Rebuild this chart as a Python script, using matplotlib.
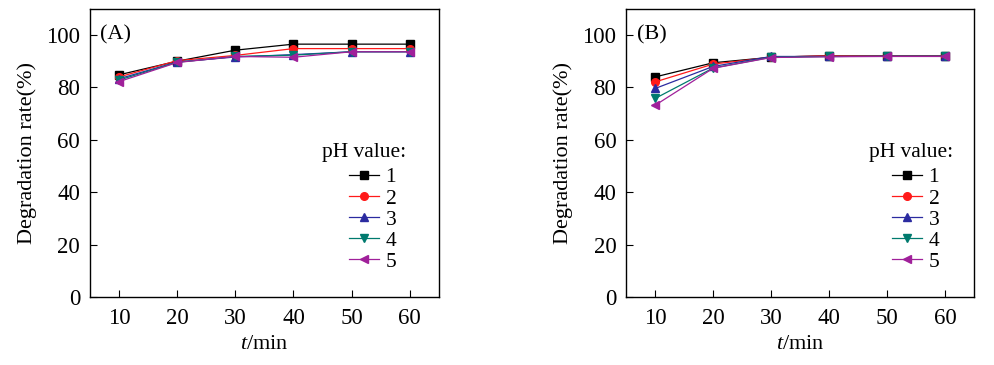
import matplotlib
matplotlib.use("Agg")
import matplotlib.pyplot as plt

plt.rcParams['font.family'] = ['Liberation Serif', 'DejaVu Serif']
plt.rcParams['mathtext.fontset'] = 'custom'
plt.rcParams['mathtext.it'] = 'Liberation Serif:italic'
plt.rcParams['mathtext.rm'] = 'Liberation Serif'

# reaction time (min)
t_min = [10, 20, 30, 40, 50, 60]
ph_labels = ['1', '2', '3', '4', '5']

# degradation rate (%) for each pH, panel A
rate_a_ph1 = [84.8, 90.0, 94.2, 96.5, 96.5, 96.5]
rate_a_ph2 = [84.0, 90.2, 92.2, 94.8, 94.8, 94.8]
rate_a_ph3 = [83.3, 89.7, 91.6, 92.5, 93.6, 93.6]
rate_a_ph4 = [82.8, 89.6, 91.8, 92.3, 93.6, 93.6]
rate_a_ph5 = [82.2, 89.5, 91.8, 91.5, 93.6, 93.6]

# panel B
rate_b_ph1 = [84.0, 89.4, 91.5, 92.1, 92.1, 92.1]
rate_b_ph2 = [82.1, 88.9, 91.5, 92.1, 92.1, 92.1]
rate_b_ph3 = [79.6, 88.0, 91.8, 91.8, 91.9, 91.9]
rate_b_ph4 = [75.8, 87.4, 91.5, 91.8, 91.9, 91.9]
rate_b_ph5 = [73.2, 87.3, 91.4, 91.7, 91.8, 91.8]

colors = ['#000000', '#ff1a1a', '#2b2ba0', '#007a6e', '#a0209a']
markers = ['s', 'o', '^', 'v', '<']


def draw_panel(ax, series, tag, title_x, leg_x):
    for i, vals in enumerate(series):
        ax.plot(t_min, vals, color=colors[i], marker=markers[i], markersize=5.5,
                linewidth=0.9, label=ph_labels[i])
    ax.set_xlim(5, 65)
    ax.set_ylim(0, 110)
    ax.set_xticks(t_min)
    ax.set_yticks([0, 20, 40, 60, 80, 100])
    ax.tick_params(direction='in', length=5, width=0.8, labelsize=16.5)
    ax.tick_params(axis='x', pad=8)
    ax.tick_params(axis='y', pad=7)
    for s in ax.spines.values():
        s.set_linewidth(1.0)
    ax.set_xlabel('$t$/min', fontsize=16, labelpad=4)
    ax.set_ylabel('Degradation rate(%)', fontsize=16, labelpad=7)
    ax.text(6.8, 100, tag, fontsize=16, va='center', ha='left')
    # legend title drawn as text so the gap under it matches
    ax.text(title_x, 0.503, 'pH value:', transform=ax.transAxes, fontsize=15.5,
            ha='right', va='center')
    ax.legend(loc='upper right', bbox_to_anchor=(leg_x, 0.45),
              frameon=False, fontsize=15.5,
              handlelength=1.4, handletextpad=0.3, labelspacing=0.05,
              borderpad=0.0, borderaxespad=0.0)


fig = plt.figure(figsize=(9.94, 3.65), dpi=100)
ax_a = fig.add_axes([0.0905, 0.186, 0.351, 0.79])
ax_b = fig.add_axes([0.630, 0.186, 0.350, 0.79])

draw_panel(ax_a, [rate_a_ph1, rate_a_ph2, rate_a_ph3, rate_a_ph4, rate_a_ph5], '(A)',
           0.905, 0.878)
draw_panel(ax_b, [rate_b_ph1, rate_b_ph2, rate_b_ph3, rate_b_ph4, rate_b_ph5], '(B)',
           0.94, 0.90)

fig.savefig('out.png', dpi=100)
